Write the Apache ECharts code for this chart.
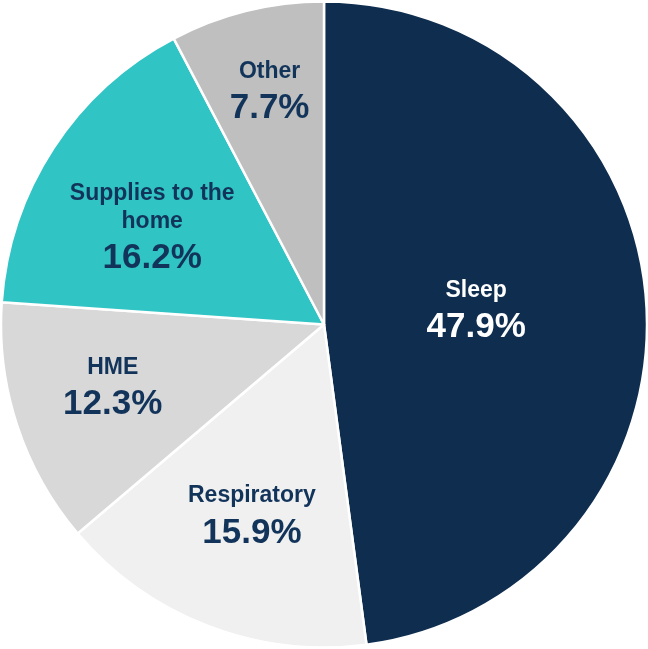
<!DOCTYPE html>
<html><head><meta charset="utf-8">
<script src="https://cdn.jsdelivr.net/npm/echarts@6/dist/echarts.min.js"></script>
<style>html,body{margin:0;padding:0;background:#fff}#c{width:648px;height:649px}</style>
</head><body><div id="c"></div>
<script>
const categories = ['Sleep', 'Respiratory', 'HME', 'Supplies to the\nhome', 'Other'];
const values = [47.9, 15.9, 12.3, 16.2, 7.7];
const colors = ['#0f2d4f', '#f0f0f0', '#d8d8d8', '#31c4c4', '#bfbfbf'];
const textColors = ['#ffffff', '#12345a', '#12345a', '#12345a', '#12345a'];
const labelOffsets = [[-12, 0], [-13, 41], [-55, 15], [-34, -4], [-15, -70]];

const FONT = 'Liberation Sans, Arial, sans-serif';
const chart = echarts.init(document.getElementById('c'));
chart.setOption({
  animation: false,
  series: [{
    type: 'pie',
    center: [324, 324.5],
    radius: [0, 323],
    startAngle: 90,
    clockwise: true,
    itemStyle: { borderColor: '#ffffff', borderWidth: 2.5 },
    label: {
      position: 'inside',
      fontFamily: FONT,
      fontWeight: 'bold',
      formatter: p => {
        const lines = p.name.split('\n').map(s => '{n|' + s + '}').join('\n');
        return lines + '\n{v|' + p.value.toFixed(1) + '%}';
      }
    },
    labelLine: { show: false },
    data: categories.map((c, i) => ({
      name: c,
      value: values[i],
      itemStyle: { color: colors[i] },
      label: {
        offset: labelOffsets[i],
        rich: {
          n: { fontSize: 23, fontWeight: 'bold', color: textColors[i], lineHeight: 28, fontFamily: FONT, align: 'center' },
          v: { fontSize: 35, fontWeight: 'bold', color: textColors[i], lineHeight: 46, fontFamily: FONT, align: 'center' }
        }
      }
    }))
  }]
});
</script>
</body></html>
